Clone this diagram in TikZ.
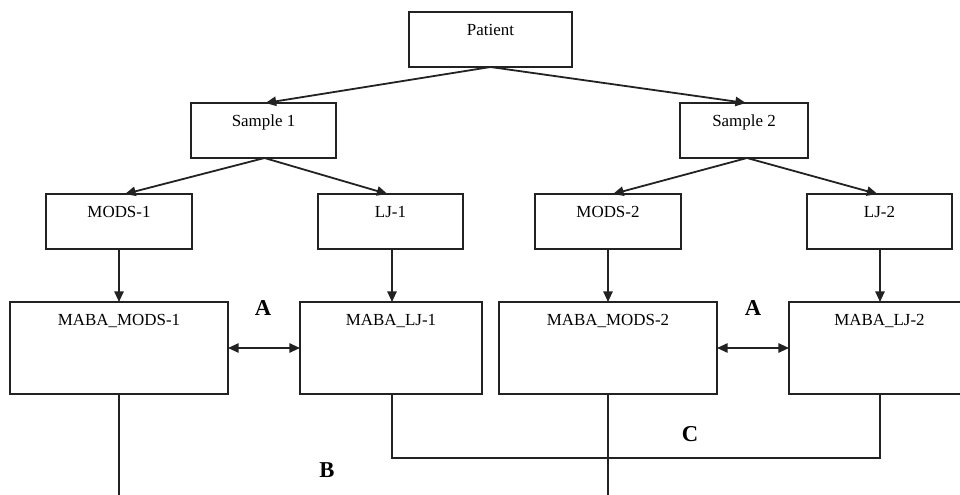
\documentclass[tikz,border=0pt]{standalone}
\usepackage{fontspec}
\setmainfont{Liberation Serif}
\usetikzlibrary{arrows.meta}
\definecolor{ln}{HTML}{222222}
\begin{document}
\begin{tikzpicture}[x=0.75pt,y=-0.75pt,
  box/.style={draw=ln,line width=1.35pt,rectangle,inner sep=0pt,outer sep=0pt,anchor=north west},
  txt/.style={inner sep=0pt,anchor=base,font=\fontsize{12.7}{15}\selectfont,text=black},
  big/.style={inner sep=0pt,anchor=center,font=\fontsize{17}{20}\selectfont\bfseries,text=black},
  conn/.style={draw=ln,line width=1.35pt},
  arr/.style={conn,-{Triangle[length=8pt,width=7pt]}},
  darr/.style={conn,{Triangle[length=8pt,width=7pt]}-{Triangle[length=8pt,width=7pt]}}]
\clip (0,0) rectangle (960,495);
\useasboundingbox (0,0) rectangle (960,495);
% boxes
\node[box,minimum width=163*0.75pt,minimum height=55*0.75pt] (p) at (409,12) {};
\node[box,minimum width=145*0.75pt,minimum height=55*0.75pt] (s1) at (191,103) {};
\node[box,minimum width=128*0.75pt,minimum height=55*0.75pt] (s2) at (680,103) {};
\node[box,minimum width=146*0.75pt,minimum height=55*0.75pt] (m1) at (46,194) {};
\node[box,minimum width=145*0.75pt,minimum height=55*0.75pt] (l1) at (318,194) {};
\node[box,minimum width=146*0.75pt,minimum height=55*0.75pt] (m2) at (535,194) {};
\node[box,minimum width=145*0.75pt,minimum height=55*0.75pt] (l2) at (807,194) {};
\node[box,minimum width=218*0.75pt,minimum height=92*0.75pt] (mm1) at (10,302) {};
\node[box,minimum width=182*0.75pt,minimum height=92*0.75pt] (ml1) at (300,302) {};
\node[box,minimum width=218*0.75pt,minimum height=92*0.75pt] (mm2) at (499,302) {};
\node[box,minimum width=220*0.75pt,minimum height=92*0.75pt] (ml2) at (789,302) {};
% helper coordinates for the vertical connectors
\coordinate (xl1) at ([xshift=1.5*0.75pt]l1.south);
\coordinate (xl2) at ([xshift=0.5*0.75pt]l2.south);
% texts
\node[txt] (tp) at ([yshift=-23.5*0.75pt]p.north) {Patient};
\node[txt] (ts1) at ([yshift=-23.5*0.75pt]s1.north) {Sample 1};
\node[txt] (ts2) at ([yshift=-23.5*0.75pt]s2.north) {Sample 2};
\node[txt] (tm1) at ([yshift=-23.5*0.75pt]m1.north) {MODS-1};
\node[txt] (tl1) at ([yshift=-23.5*0.75pt]l1.north) {LJ-1};
\node[txt] (tm2) at ([yshift=-23.5*0.75pt]m2.north) {MODS-2};
\node[txt] (tl2) at ([yshift=-23.5*0.75pt]l2.north) {LJ-2};
\node[txt] (tmm1) at ([yshift=-23.5*0.75pt]mm1.north) {MABA\_MODS-1};
\node[txt] (tml1) at ([yshift=-23.5*0.75pt]ml1.north) {MABA\_LJ-1};
\node[txt] (tmm2) at ([yshift=-23.5*0.75pt]mm2.north) {MABA\_MODS-2};
\node[txt] (tml2) at ([yshift=-23.5*0.75pt]l2.north |- ml2.north) {MABA\_LJ-2};
% big labels
\node[big] (A1) at (263,308) {A};
\node[big] (A2) at (753,308) {A};
\node[big] (B) at (327,470) {B};
\node[big] (C) at (690,434) {C};
% arrows
\draw[arr] (p.south) -- ([xshift=2*0.75pt]s1.north);
\draw[arr] (p.south) -- ([xshift=2*0.75pt]s2.north);
\draw[arr] ([xshift=1*0.75pt]s1.south) -- ([xshift=6*0.75pt]m1.north);
\draw[arr] ([xshift=1*0.75pt]s1.south) -- ([xshift=-3*0.75pt]l1.north);
\draw[arr] ([xshift=3*0.75pt]s2.south) -- ([xshift=5*0.75pt]m2.north);
\draw[arr] ([xshift=3*0.75pt]s2.south) -- ([xshift=-2*0.75pt]l2.north);
\draw[arr] (m1.south) -- (m1.south |- mm1.north);
\draw[arr] (xl1) -- (xl1 |- ml1.north);
\draw[arr] (m2.south) -- (m2.south |- mm2.north);
\draw[arr] (xl2) -- (xl2 |- ml2.north);
\draw[darr] (mm1.east) -- (ml1.west);
\draw[darr] (mm2.east) -- (ml2.west);
% bottom lines
\coordinate (bot) at (0,497);
\coordinate (mid) at (0,458);
\draw[conn] (mm1.south) -- (mm1.south |- bot);
\draw[conn] (mm2.south) -- (mm2.south |- bot);
\draw[conn] (xl1 |- ml1.south) -- (xl1 |- mid) -- (xl2 |- mid) -- (xl2 |- ml2.south);
\end{tikzpicture}
\end{document}
